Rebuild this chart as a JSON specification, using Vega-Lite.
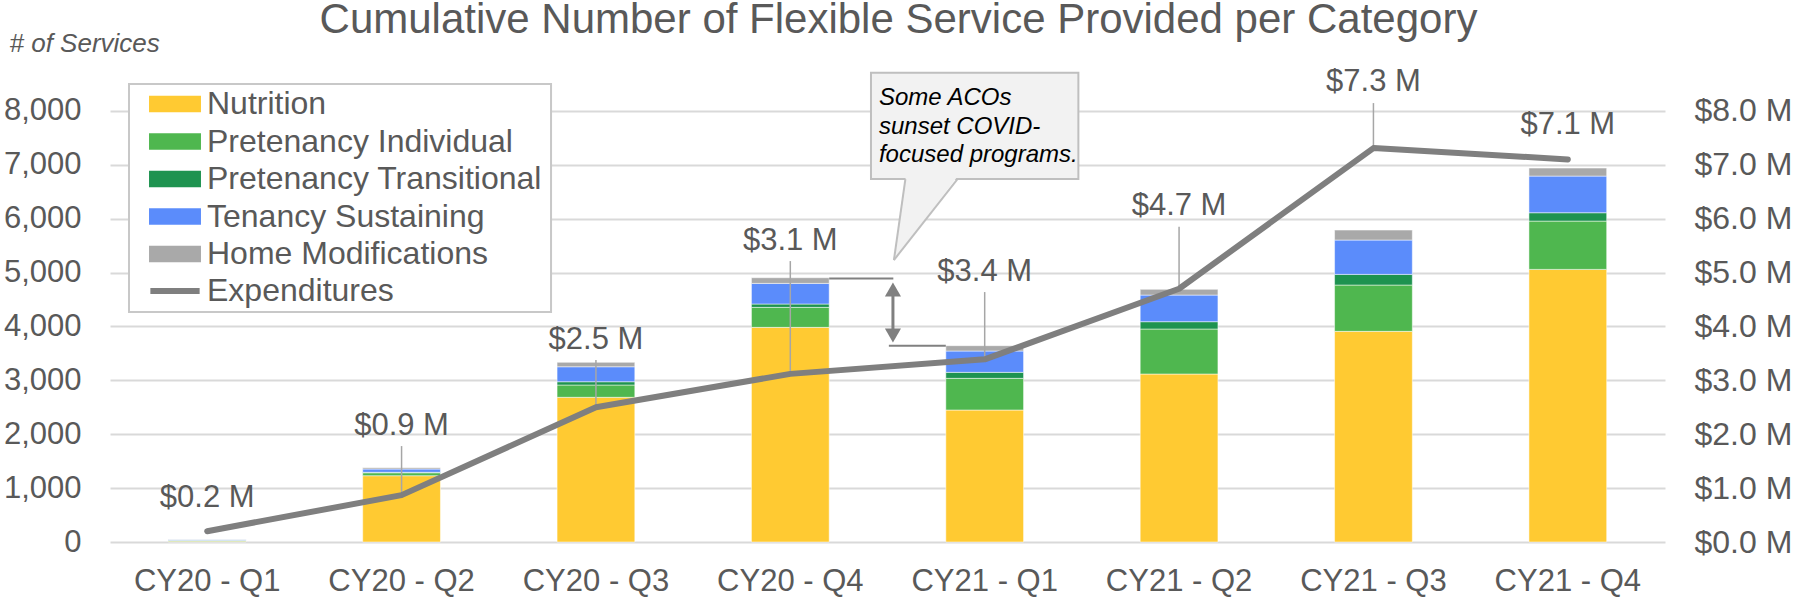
{
  "$schema": "https://vega.github.io/schema/vega-lite/v6.json",
  "width": 1555,
  "height": 485,
  "autosize": {"type": "none"},
  "padding": {"left": 110, "top": 57, "right": 133, "bottom": 59},
  "background": "white",
  "config": {
    "font": "Liberation Sans",
    "view": {"stroke": null},
    "axis": {"labelFont": "Liberation Sans", "labelColor": "#595959", "titleColor": "#595959"},
    "legend": {"labelFont": "Liberation Sans"}
  },
  "title": {
    "text": "Cumulative Number of Flexible Service Provided per Category",
    "fontSize": 42,
    "fontWeight": "normal",
    "color": "#595959",
    "anchor": "middle",
    "dx": 11,
    "dy": 55,
    "baseline": "alphabetic",
    "offset": 10
  },
  "datasets": {
    "bars": [
      {"quarter": "CY20 - Q1", "category": "Nutrition", "services": 15, "ord": 1},
      {"quarter": "CY20 - Q1", "category": "Pretenancy Individual", "services": 15, "ord": 2},
      {"quarter": "CY20 - Q1", "category": "Pretenancy Transitional", "services": 3, "ord": 3},
      {"quarter": "CY20 - Q1", "category": "Tenancy Sustaining", "services": 15, "ord": 4},
      {"quarter": "CY20 - Q1", "category": "Home Modifications", "services": 2, "ord": 5},
      {"quarter": "CY20 - Q2", "category": "Nutrition", "services": 1230, "ord": 1},
      {"quarter": "CY20 - Q2", "category": "Pretenancy Individual", "services": 55, "ord": 2},
      {"quarter": "CY20 - Q2", "category": "Pretenancy Transitional", "services": 8, "ord": 3},
      {"quarter": "CY20 - Q2", "category": "Tenancy Sustaining", "services": 61, "ord": 4},
      {"quarter": "CY20 - Q2", "category": "Home Modifications", "services": 24, "ord": 5},
      {"quarter": "CY20 - Q3", "category": "Nutrition", "services": 2685, "ord": 1},
      {"quarter": "CY20 - Q3", "category": "Pretenancy Individual", "services": 228, "ord": 2},
      {"quarter": "CY20 - Q3", "category": "Pretenancy Transitional", "services": 61, "ord": 3},
      {"quarter": "CY20 - Q3", "category": "Tenancy Sustaining", "services": 278, "ord": 4},
      {"quarter": "CY20 - Q3", "category": "Home Modifications", "services": 82, "ord": 5},
      {"quarter": "CY20 - Q4", "category": "Nutrition", "services": 3983, "ord": 1},
      {"quarter": "CY20 - Q4", "category": "Pretenancy Individual", "services": 371, "ord": 2},
      {"quarter": "CY20 - Q4", "category": "Pretenancy Transitional", "services": 62, "ord": 3},
      {"quarter": "CY20 - Q4", "category": "Tenancy Sustaining", "services": 383, "ord": 4},
      {"quarter": "CY20 - Q4", "category": "Home Modifications", "services": 105, "ord": 5},
      {"quarter": "CY21 - Q1", "category": "Nutrition", "services": 2449, "ord": 1},
      {"quarter": "CY21 - Q1", "category": "Pretenancy Individual", "services": 588, "ord": 2},
      {"quarter": "CY21 - Q1", "category": "Pretenancy Transitional", "services": 111, "ord": 3},
      {"quarter": "CY21 - Q1", "category": "Tenancy Sustaining", "services": 396, "ord": 4},
      {"quarter": "CY21 - Q1", "category": "Home Modifications", "services": 99, "ord": 5},
      {"quarter": "CY21 - Q2", "category": "Nutrition", "services": 3117, "ord": 1},
      {"quarter": "CY21 - Q2", "category": "Pretenancy Individual", "services": 835, "ord": 2},
      {"quarter": "CY21 - Q2", "category": "Pretenancy Transitional", "services": 136, "ord": 3},
      {"quarter": "CY21 - Q2", "category": "Tenancy Sustaining", "services": 494, "ord": 4},
      {"quarter": "CY21 - Q2", "category": "Home Modifications", "services": 106, "ord": 5},
      {"quarter": "CY21 - Q3", "category": "Nutrition", "services": 3909, "ord": 1},
      {"quarter": "CY21 - Q3", "category": "Pretenancy Individual", "services": 859, "ord": 2},
      {"quarter": "CY21 - Q3", "category": "Pretenancy Transitional", "services": 198, "ord": 3},
      {"quarter": "CY21 - Q3", "category": "Tenancy Sustaining", "services": 637, "ord": 4},
      {"quarter": "CY21 - Q3", "category": "Home Modifications", "services": 185, "ord": 5},
      {"quarter": "CY21 - Q4", "category": "Nutrition", "services": 5059, "ord": 1},
      {"quarter": "CY21 - Q4", "category": "Pretenancy Individual", "services": 896, "ord": 2},
      {"quarter": "CY21 - Q4", "category": "Pretenancy Transitional", "services": 155, "ord": 3},
      {"quarter": "CY21 - Q4", "category": "Tenancy Sustaining", "services": 680, "ord": 4},
      {"quarter": "CY21 - Q4", "category": "Home Modifications", "services": 149, "ord": 5}
    ],
    "exp": [
      {"quarter": "CY20 - Q1", "exp": 0.2, "label": "$0.2 M", "labelY": 0.649, "leaderTop": null},
      {"quarter": "CY20 - Q2", "exp": 0.87, "label": "$0.9 M", "labelY": 1.985, "leaderTop": 1.78},
      {"quarter": "CY20 - Q3", "exp": 2.5, "label": "$2.5 M", "labelY": 3.575, "leaderTop": 3.377},
      {"quarter": "CY20 - Q4", "exp": 3.12, "label": "$3.1 M", "labelY": 5.417, "leaderTop": 5.213},
      {"quarter": "CY21 - Q1", "exp": 3.39, "label": "$3.4 M", "labelY": 4.85, "leaderTop": 4.638},
      {"quarter": "CY21 - Q2", "exp": 4.7, "label": "$4.7 M", "labelY": 6.067, "leaderTop": 5.85},
      {"quarter": "CY21 - Q3", "exp": 7.31, "label": "$7.3 M", "labelY": 8.36, "leaderTop": 8.145},
      {"quarter": "CY21 - Q4", "exp": 7.1, "label": "$7.1 M", "labelY": 7.58, "leaderTop": null}
    ]
  },
  "layer": [
    {
      "data": {"name": "bars"},
      "layer": [
        {
          "mark": {"type": "bar", "stroke": "white", "strokeWidth": 0.5},
          "encoding": {
            "x": {
              "field": "quarter", "type": "nominal",
              "scale": {"domain": ["CY20 - Q1", "CY20 - Q2", "CY20 - Q3", "CY20 - Q4", "CY21 - Q1", "CY21 - Q2", "CY21 - Q3", "CY21 - Q4"], "paddingInner": 0.6, "paddingOuter": 0.3},
              "axis": {
                "title": null, "labelAngle": 0, "labelFontSize": 31, "labelBaseline": "alphabetic",
                "labelPadding": 48, "domain": false, "ticks": false, "tickSize": 0, "labelColor": "#595959"
              }
            },
            "y": {
              "field": "services", "type": "quantitative", "stack": "zero",
              "scale": {"domain": [0, 9000], "nice": false},
              "axis": {
                "values": [0, 1000, 2000, 3000, 4000, 5000, 6000, 7000, 8000],
                "labelExpr": "format(datum.value, ',.0f')", "labelFontSize": 31, "labelPadding": 29, "domain": false, "ticks": false, "tickSize": 0,
                "gridColor": "#d9d9d9", "gridWidth": 2,
                "title": "# of Services", "titleAngle": 0, "titleAlign": "left", "titleBaseline": "alphabetic",
                "titleX": -101, "titleY": -6, "titleFontStyle": "italic", "titleFontWeight": "normal", "titleFontSize": 26
              }
            },
            "fill": {
              "field": "category", "type": "nominal",
              "scale": {
                "domain": ["Nutrition", "Pretenancy Individual", "Pretenancy Transitional", "Tenancy Sustaining", "Home Modifications"],
                "range": ["#FFCA32", "#4FB74F", "#1E9350", "#5B8CFB", "#A9A9A9"]
              },
              "legend": {
                "title": null, "orient": "none", "legendX": 19, "legendY": 31, "direction": "vertical",
                "padding": 0,
                "labelFontSize": 32, "labelColor": "#595959", "labelLimit": 600,
                "symbolSize": 279, "symbolOffset": 30, "labelOffset": 16, "rowPadding": 5.5,
                "symbolType": "M-3.11,-1H3.11V1H-3.11Z", "symbolStrokeWidth": 0
              }
            },
            "order": {"field": "ord", "type": "quantitative"}
          }
        }
      ]
    },
    {
      "data": {"name": "exp"},
      "layer": [
        {
          "transform": [{"filter": "datum.leaderTop != null"}],
          "mark": {"type": "rule", "color": "#a6a6a6", "strokeWidth": 1.5},
          "encoding": {
            "x": {"field": "quarter", "type": "nominal", "scale": {"domain": ["CY20 - Q1", "CY20 - Q2", "CY20 - Q3", "CY20 - Q4", "CY21 - Q1", "CY21 - Q2", "CY21 - Q3", "CY21 - Q4"], "paddingInner": 0.6, "paddingOuter": 0.3}, "axis": null},
            "y": {
              "field": "leaderTop", "type": "quantitative", "scale": {"domain": [0, 9], "nice": false},
              "axis": {
                "orient": "right", "values": [0, 1, 2, 3, 4, 5, 6, 7, 8],
                "labelExpr": "'$' + format(datum.value, '.1f') + ' M'",
                "labelFontSize": 32, "labelPadding": 29, "domain": false, "ticks": false, "tickSize": 0, "grid": false, "title": null,
                "labelColor": "#595959"
              }
            },
            "y2": {"field": "exp"}
          }
        },
        {
          "mark": {"type": "line", "strokeWidth": 6, "strokeCap": "round", "strokeJoin": "round"},
          "encoding": {
            "x": {"field": "quarter", "type": "nominal", "scale": {"domain": ["CY20 - Q1", "CY20 - Q2", "CY20 - Q3", "CY20 - Q4", "CY21 - Q1", "CY21 - Q2", "CY21 - Q3", "CY21 - Q4"], "paddingInner": 0.6, "paddingOuter": 0.3}, "axis": null},
            "y": {"field": "exp", "type": "quantitative", "scale": {"domain": [0, 9], "nice": false}},
            "stroke": {
              "datum": "Expenditures",
              "scale": {"domain": ["Expenditures"], "range": ["#7F7F7F"]},
              "legend": {
                "title": null, "orient": "none", "legendX": 19, "legendY": 218, "direction": "vertical",
                "padding": 0,
                "labelFontSize": 32, "labelColor": "#595959", "labelLimit": 600,
                "symbolSize": 279, "symbolOffset": 30, "labelOffset": 16,
                "symbolType": "M-2.95,0H2.95", "symbolStrokeWidth": 6
              }
            }
          }
        },
        {
          "mark": {"type": "text", "fontSize": 31, "color": "#595959", "baseline": "alphabetic", "align": "center"},
          "encoding": {
            "x": {"field": "quarter", "type": "nominal", "scale": {"domain": ["CY20 - Q1", "CY20 - Q2", "CY20 - Q3", "CY20 - Q4", "CY21 - Q1", "CY21 - Q2", "CY21 - Q3", "CY21 - Q4"], "paddingInner": 0.6, "paddingOuter": 0.3}, "axis": null},
            "y": {"field": "labelY", "type": "quantitative", "scale": {"domain": [0, 9], "nice": false}},
            "text": {"field": "label"}
          }
        }
      ]
    },
    {
      "layer": [
        {
          "data": {"values": [{"u": 0.0977, "u2": 2.269, "v": 8497, "v2": 4267}]},
          "mark": {"type": "rect", "fill": "white", "stroke": "#c8c8c8", "strokeWidth": 2},
          "encoding": {
            "x": {"field": "u", "type": "quantitative", "scale": {"domain": [0, 8], "nice": false, "zero": false}, "axis": null},
            "x2": {"field": "u2"},
            "y": {"field": "v", "type": "quantitative", "scale": {"domain": [0, 9000], "nice": false}, "axis": null},
            "y2": {"field": "v2"}
          }
        },
        {
          "data": {"values": [{"u": 3.915, "u2": 4.982, "v": 8707, "v2": 6735}]},
          "mark": {"type": "rect", "fill": "#f2f2f2", "stroke": "#bfbfbf", "strokeWidth": 2},
          "encoding": {
            "x": {"field": "u", "type": "quantitative", "scale": {"domain": [0, 8], "nice": false, "zero": false}, "axis": null},
            "x2": {"field": "u2"},
            "y": {"field": "v", "type": "quantitative", "scale": {"domain": [0, 9000], "nice": false}, "axis": null},
            "y2": {"field": "v2"}
          }
        },
        {
          "data": {"values": [{"v": 6775, "u": 4.094, "u2": 4.358}, {"v": 5232, "u": 4.033, "u2": 4.033}]},
          "mark": {"type": "area", "orient": "horizontal", "fill": "#f2f2f2", "opacity": 1},
          "encoding": {
            "y": {"field": "v", "type": "quantitative", "scale": {"domain": [0, 9000], "nice": false}, "axis": null},
            "x": {"field": "u", "type": "quantitative", "scale": {"domain": [0, 8], "nice": false, "zero": false}, "axis": null},
            "x2": {"field": "u2"}
          }
        },
        {
          "data": {"values": [{"u": 4.092, "v": 6735, "u2": 4.033, "v2": 5232}, {"u": 4.360, "v": 6735, "u2": 4.033, "v2": 5232}]},
          "mark": {"type": "rule", "color": "#bfbfbf", "strokeWidth": 2},
          "encoding": {
            "x": {"field": "u", "type": "quantitative", "scale": {"domain": [0, 8], "nice": false, "zero": false}, "axis": null},
            "x2": {"field": "u2"},
            "y": {"field": "v", "type": "quantitative", "scale": {"domain": [0, 9000], "nice": false}, "axis": null},
            "y2": {"field": "v2"}
          }
        },
        {
          "data": {"values": [{"u": 3.956, "v": 8108, "note": "Some ACOs\nsunset COVID-\nfocused programs."}]},
          "mark": {"type": "text", "fontSize": 24, "fontStyle": "italic", "color": "#000000", "align": "left", "baseline": "alphabetic", "lineHeight": 28.5, "lineBreak": "\n"},
          "encoding": {
            "x": {"field": "u", "type": "quantitative", "scale": {"domain": [0, 8], "nice": false, "zero": false}, "axis": null},
            "y": {"field": "v", "type": "quantitative", "scale": {"domain": [0, 9000], "nice": false}, "axis": null},
            "text": {"field": "note"}
          }
        },
        {
          "data": {"values": [{"u": 3.7, "u2": 4.03, "v": 4892}, {"u": 4.007, "u2": 4.3, "v": 3642}]},
          "mark": {"type": "rule", "color": "#808080", "strokeWidth": 2},
          "encoding": {
            "x": {"field": "u", "type": "quantitative", "scale": {"domain": [0, 8], "nice": false, "zero": false}, "axis": null},
            "x2": {"field": "u2"},
            "y": {"field": "v", "type": "quantitative", "scale": {"domain": [0, 9000], "nice": false}, "axis": null}
          }
        },
        {
          "data": {"values": [{"u": 4.028, "v": 4694, "v2": 3822}]},
          "mark": {"type": "rule", "color": "#808080", "strokeWidth": 3},
          "encoding": {
            "x": {"field": "u", "type": "quantitative", "scale": {"domain": [0, 8], "nice": false, "zero": false}, "axis": null},
            "y": {"field": "v", "type": "quantitative", "scale": {"domain": [0, 9000], "nice": false}, "axis": null},
            "y2": {"field": "v2"}
          }
        },
        {
          "data": {"values": [{"u": 4.028, "v": 4685}]},
          "mark": {"type": "point", "shape": "triangle-up", "filled": true, "size": 260, "color": "#808080", "opacity": 1},
          "encoding": {
            "x": {"field": "u", "type": "quantitative", "scale": {"domain": [0, 8], "nice": false, "zero": false}, "axis": null},
            "y": {"field": "v", "type": "quantitative", "scale": {"domain": [0, 9000], "nice": false}, "axis": null}
          }
        },
        {
          "data": {"values": [{"u": 4.028, "v": 3831}]},
          "mark": {"type": "point", "shape": "triangle-down", "filled": true, "size": 260, "color": "#808080", "opacity": 1},
          "encoding": {
            "x": {"field": "u", "type": "quantitative", "scale": {"domain": [0, 8], "nice": false, "zero": false}, "axis": null},
            "y": {"field": "v", "type": "quantitative", "scale": {"domain": [0, 9000], "nice": false}, "axis": null}
          }
        }
      ]
    }
  ],
  "resolve": {"scale": {"x": "independent", "y": "independent"}}
}
